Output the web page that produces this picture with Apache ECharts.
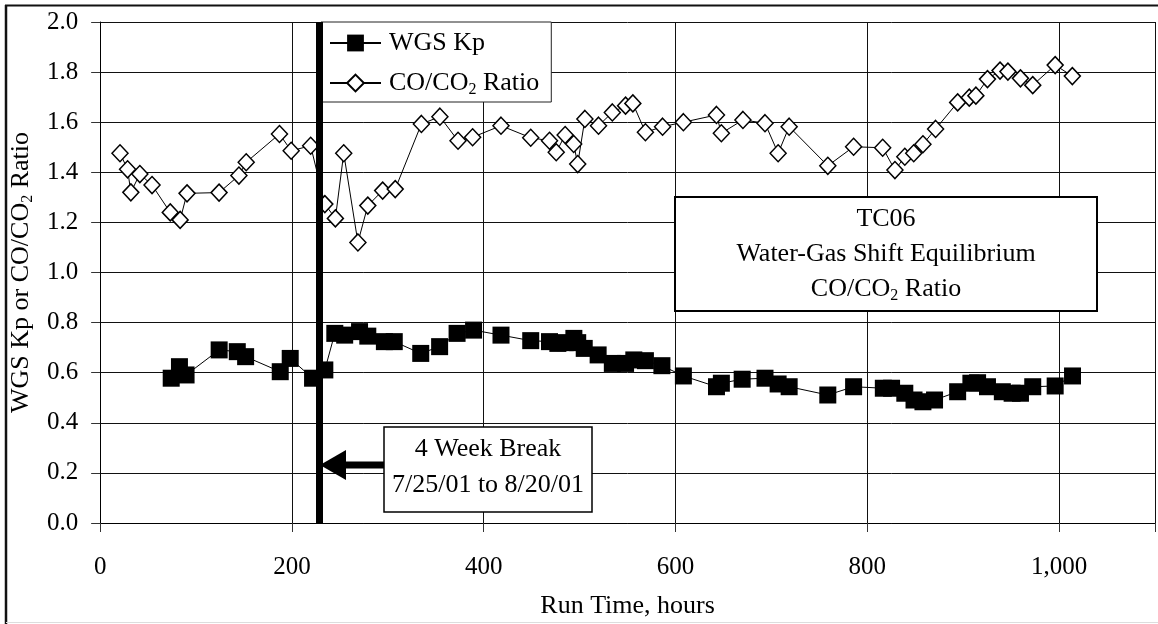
<!DOCTYPE html>
<html><head><meta charset="utf-8">
<script src="https://cdn.jsdelivr.net/npm/echarts@6/dist/echarts.min.js"></script>
<style>html,body{margin:0;padding:0;background:#fff}#c{width:1158px;height:624px}</style>
</head><body><div id="c"></div>
<script>
const ratioHours = [20.7,28.6,32,41.4,54.1,73.1,83.4,90.6,124,144.7,152.3,187,199.2,219.5,234.3,245.3,254,268.8,279.1,294.6,307.7,335,354.3,373.2,388.4,418,449,468.6,475.6,484.9,493.8,498,505.5,519.7,534.1,547.9,555.5,568.6,586.5,608.2,642.7,647.8,670.3,693.3,707,718.5,758.8,785.7,816,828.8,839.1,848.4,858,871.2,894.2,906.3,913.2,925.3,938.4,946.6,959.7,972.5,995.9,1013.8];
const ratioValues = [1.476,1.412,1.320,1.393,1.349,1.240,1.210,1.316,1.319,1.387,1.440,1.553,1.486,1.506,1.273,1.216,1.476,1.12,1.267,1.327,1.333,1.593,1.622,1.526,1.540,1.586,1.538,1.526,1.480,1.549,1.513,1.433,1.613,1.586,1.639,1.666,1.675,1.560,1.582,1.600,1.629,1.556,1.609,1.596,1.476,1.582,1.426,1.502,1.498,1.409,1.462,1.476,1.512,1.573,1.679,1.698,1.706,1.772,1.806,1.802,1.775,1.748,1.828,1.784];
const kpHours = [74.1,82.7,89.6,124.1,143,151.7,187.8,198.2,221.5,234.3,244.7,255,270.5,279.1,296.4,306.7,334.3,354,372.2,389.4,418,449,468.6,477.3,485,494,498,504.8,519.3,534.1,547.9,556.5,568.6,585.8,608.2,642.7,647.8,669.5,693.3,707,718.5,758.8,785.7,816.7,825.3,839.1,848.7,858,870.1,894.2,908,915,925.3,940.8,951,959.7,972.5,995.9,1014];
const kpValues = [0.578,0.624,0.591,0.691,0.684,0.664,0.604,0.657,0.578,0.611,0.757,0.750,0.764,0.746,0.724,0.724,0.677,0.704,0.757,0.770,0.750,0.728,0.724,0.717,0.72,0.737,0.72,0.697,0.671,0.637,0.637,0.651,0.648,0.628,0.587,0.544,0.558,0.574,0.578,0.555,0.544,0.511,0.544,0.538,0.538,0.518,0.491,0.484,0.491,0.524,0.558,0.56,0.544,0.524,0.518,0.518,0.544,0.547,0.587];
const breakHour = 228;
const xMin = 0, xMax = 1100, xStep = 200, xLastLabel = 1000;
const yMin = 0, yMax = 2, yStep = 0.2;
const kpName = 'WGS Kp';
const ratioName = 'CO/CO2 Ratio';
const xTitle = 'Run Time, hours';
const yTitle = '{a|WGS Kp or CO/CO}{s|2}{a| Ratio}';
const boxLines = ['TC06', 'Water-Gas Shift Equilibrium', '{a|CO/CO}{s|2}{a| Ratio}'];
const breakLines = ['4 Week Break', '7/25/01 to 8/20/01'];

const FF = '"Liberation Serif", "Times New Roman", serif';
const zip = (xs, ys) => xs.map((x, i) => [x, ys[i]]);
const rich = {
  a: { fontFamily: FF, fontSize: 26, color: '#000', lineHeight: 30 },
  s: { fontFamily: FF, fontSize: 16, color: '#000', lineHeight: 16, verticalAlign: 'bottom' }
};
const fmtX = v => v > xLastLabel ? '' : (v >= 1000 ? Math.floor(v / 1000) + ',' + String(v % 1000).padStart(3, '0') : String(v));

const chart = echarts.init(document.getElementById('c'), null, { renderer: 'canvas' });
chart.setOption({
  backgroundColor: '#fff',
  animation: false,
  grid: { left: 95, top: 22, width: 1064, height: 501, containLabel: false },
  xAxis: {
    type: 'value', min: xMin, max: xMax, interval: xStep,
    name: xTitle, nameLocation: 'middle', nameGap: 70,
    nameTextStyle: { fontFamily: FF, fontSize: 26, color: '#000' },
    axisLine: { show: true, lineStyle: { color: '#000', width: 1 } },
    axisTick: { show: true, length: 9, inside: false, lineStyle: { color: '#333' } },
    axisLabel: { formatter: fmtX, fontFamily: FF, fontSize: 25, color: '#000', margin: 32 },
    splitLine: { show: true, lineStyle: { color: '#111', width: 1 } }
  },
  yAxis: {
    type: 'value', min: yMin, max: yMax, interval: yStep,
    name: yTitle, nameLocation: 'middle', nameGap: 56, nameRotate: 90,
    nameTextStyle: { fontFamily: FF, fontSize: 26, color: '#000', rich: rich },
    axisLine: { show: true, lineStyle: { color: '#000', width: 1 } },
    axisTick: { show: true, length: 9, inside: false, lineStyle: { color: '#333' } },
    axisLabel: { formatter: v => v.toFixed(1), fontFamily: FF, fontSize: 25, color: '#000', margin: 22, padding: [7, 0, 0, 0] },
    splitLine: { show: true, lineStyle: { color: '#111', width: 1 } }
  },
  legend: {
    orient: 'vertical', left: 321, top: 22,
    data: [kpName, ratioName],
    itemWidth: 51, itemHeight: 21, itemGap: 14,
    padding: [8, 12, 4, 8],
    backgroundColor: '#fff', borderColor: '#222', borderWidth: 1,
    formatter: n => n === ratioName ? '{a|CO/CO}{s|2}{a| Ratio}' : '{a|' + n + '}',
    textStyle: { fontFamily: FF, fontSize: 26, color: '#000', rich: rich, padding: [0, 0, 0, 3] }
  },
  series: [
    {
      name: kpName, type: 'line', data: zip(kpHours, kpValues),
      symbol: 'rect', symbolSize: 17, z: 3,
      itemStyle: { color: '#000' },
      lineStyle: { color: '#000', width: 1 }
    },
    {
      name: ratioName, type: 'line', data: zip(ratioHours, ratioValues),
      symbol: 'diamond', symbolSize: [16, 17], z: 4,
      itemStyle: { color: '#fff', borderColor: '#000', borderWidth: 1.5 },
      lineStyle: { color: '#000', width: 1 },
      markLine: {
        silent: true, symbol: ['none', 'none'], animation: false,
        label: { show: false },
        lineStyle: { color: '#000', width: 7, type: 'solid' },
        data: [{ xAxis: breakHour }]
      }
    }
  ],
  graphic: [
    { type: 'line', shape: { x1: 5, y1: 5.5, x2: 1158, y2: 5.5 }, style: { stroke: '#111', lineWidth: 2 }, z: 100 },
    { type: 'line', shape: { x1: 6, y1: 5, x2: 6, y2: 624 }, style: { stroke: '#111', lineWidth: 2.5 }, z: 100 },
    { type: 'line', shape: { x1: 6, y1: 622.5, x2: 1158, y2: 622.5 }, style: { stroke: '#ddd', lineWidth: 1 }, z: 100 },
    { type: 'rect', shape: { x: 675, y: 197, width: 422, height: 114 }, style: { fill: '#fff', stroke: '#000', lineWidth: 2 }, z: 50 },
    { type: 'text', x: 886, y: 219, style: { text: boxLines[0], font: '26px ' + FF, fill: '#000', align: 'center', verticalAlign: 'middle' }, z: 51 },
    { type: 'text', x: 886, y: 254, style: { text: boxLines[1], font: '26px ' + FF, fill: '#000', align: 'center', verticalAlign: 'middle' }, z: 51 },
    { type: 'text', x: 886, y: 289, style: { text: boxLines[2], rich: rich, fill: '#000', align: 'center', verticalAlign: 'middle' }, z: 51 },
    { type: 'rect', shape: { x: 384, y: 427, width: 208, height: 85 }, style: { fill: '#fff', stroke: '#000', lineWidth: 1.5 }, z: 50 },
    { type: 'text', x: 488, y: 449, style: { text: breakLines[0], font: '26px ' + FF, fill: '#000', align: 'center', verticalAlign: 'middle' }, z: 51 },
    { type: 'text', x: 488, y: 485, style: { text: breakLines[1], font: '26px ' + FF, fill: '#000', align: 'center', verticalAlign: 'middle' }, z: 51 },
    { type: 'rect', shape: { x: 343, y: 461.5, width: 41, height: 7 }, style: { fill: '#000' }, z: 50 },
    { type: 'polygon', shape: { points: [[320, 465], [346, 450], [346, 480]] }, style: { fill: '#000' }, z: 50 }
  ]
});
</script></body></html>
